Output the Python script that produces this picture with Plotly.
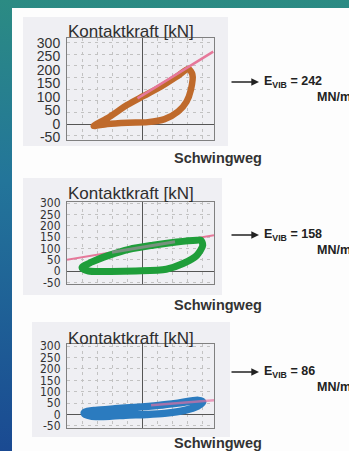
import base64
import plotly.graph_objects as go

W, H = 349, 451

# ---- data -------------------------------------------------------------
tick_values = [300, 250, 200, 150, 100, 50, 0, -50]
e_vib = [242, 158, 86]

# hysteresis loop 1 (stiff soil)
loop1_x = [-3.22, -2.32, -0.97, 0.11, 1.28, 2.41, 3.09, 3.36, 3.26, 2.97, 2.41, 1.51, 0.39, -0.97, -2.32, -3.11, -3.22]
loop1_y = [-7, 21, 71, 104, 139, 179, 204, 183, 127, 83, 46, 18, 7, 5, 0, -7, -7]
fit1_x = [-0.3, 4.75]
fit1_y = [95, 268]

# hysteresis loop 2
loop2_x = [-4.0, -3.56, -2.21, -0.41, 1.62, 2.74, 3.65, 4.05, 3.92, 3.65, 2.30, 0.72, -0.86, -2.21, -3.33, -4.0]
loop2_y = [15, 0, -2, 0, 8, 33, 69, 114, 136, 136, 128, 114, 96, 69, 40, 15]
fit2_x = [-5.0, 4.8]
fit2_y = [50, 158]
fit2_top_x = [-2.0, 2.2]
fit2_top_y = [83, 129]

# hysteresis loop 3 (soft soil)
loop3_x = [-3.85, -3.4, -2.0, -1.1, 0.3, 1.5, 2.85, 3.7, 4.05, 3.75, 2.4, 1.1, -0.5, -1.8, -3.1, -3.8, -3.85]
loop3_y = [5, -7, -7, -3, 0, 5, 18, 36, 55, 62, 50, 40, 31, 25, 18, 10, 5]
fit3_x = [0.6, 4.85]
fit3_y = [41, 63]

loops = [(loop1_x, loop1_y), (loop2_x, loop2_y), (loop3_x, loop3_y)]
loop_colors = ["#bf6a2c", "#1f9e3a", "#2b7bbf"]
loop_widths = [6.5, 7, 7.5]

# ---- layout geometry (pixels) ------------------------------------------
def fx(p):
    return p / W

def fy(p):
    return 1 - p / H

BOX_L, BOX_R = 67, 214
X_RANGE = [-5.0, 4.8]
font_fam = "Liberation Sans, Arial, sans-serif"
narrow_fam = "Liberation Sans Narrow, DejaVu Sans Condensed, Liberation Sans, Arial"

panels = [
    dict(top=38, bottom=140, zero=124, per50=13.5, grid=43,
         tickfont=dict(family=font_fam, size=14, color="#333"),
         title_y=32, label_y=158, e_y=82, bg=(23, 17, 228, 146)),
    dict(top=202, bottom=284, zero=271, per50=11.3, grid=50,
         tickfont=dict(family=narrow_fam, size=12, color="#333"),
         title_y=193, label_y=305, e_y=235, bg=(23, 178, 222, 295)),
    dict(top=344, bottom=428, zero=414.5, per50=11.4, grid=50,
         tickfont=dict(family=narrow_fam, size=12, color="#333"),
         title_y=338, label_y=443, e_y=372, bg=(32, 322, 230, 437)),
]

fig = go.Figure()

# background gradient on the slide
svg = ('<svg xmlns="http://www.w3.org/2000/svg" width="349" height="451">'
       '<defs><linearGradient id="g" x1="0" y1="0" x2="0" y2="1">'
       '<stop offset="0" stop-color="#2b8b83"/>'
       '<stop offset="0.4" stop-color="#23759a"/>'
       '<stop offset="1" stop-color="#1a4a92"/>'
       '</linearGradient></defs>'
       '<rect width="349" height="451" fill="url(#g)"/></svg>')
src = "data:image/svg+xml;base64," + base64.b64encode(svg.encode()).decode()

shapes = [
    dict(type="rect", xref="paper", yref="paper", layer="below",
         x0=fx(12), x1=1.0, y0=0.0, y1=fy(8),
         fillcolor="#fdfdfd", line=dict(width=0)),
]

annotations = []

for i, p in enumerate(panels):
    n = "" if i == 0 else str(i + 1)
    xa, ya = "x" + n, "y" + n
    y_rng = [-(p["bottom"] - p["zero"]) / p["per50"] * 50,
             (p["zero"] - p["top"]) / p["per50"] * 50]

    bx0, by0, bx1, by1 = p["bg"]
    shapes.append(dict(type="rect", xref="paper", yref="paper", layer="below",
                       x0=fx(bx0), x1=fx(bx1), y0=fy(by1), y1=fy(by0),
                       fillcolor="#efeff3", line=dict(width=0)))

    axis_common = dict(showline=True, mirror=True, linecolor="#808080", linewidth=1,
                       zeroline=True, zerolinecolor="#555", zerolinewidth=1,
                       ticks="", fixedrange=True, automargin=False)
    fig.update_layout(**{
        "xaxis" + n: dict(domain=[fx(BOX_L), fx(BOX_R)], range=X_RANGE,
                          anchor=ya, showticklabels=False,
                          showgrid=True, dtick=1, tick0=0,
                          gridcolor="#c2c2c2", griddash="3px,4px", gridwidth=1,
                          **axis_common),
        "yaxis" + n: dict(domain=[fy(p["bottom"]), fy(p["top"])], range=y_rng,
                          anchor=xa, tickmode="array", tickvals=tick_values,
                          ticktext=[str(v) for v in tick_values],
                          tickfont=p["tickfont"], ticklabelstandoff=3,
                          showgrid=(p["grid"] == 50), gridcolor="#c2c2c2",
                          griddash="3px,4px", gridwidth=1,
                          minor=dict(showgrid=(p["grid"] != 50), dtick=p["grid"], tick0=0,
                                     gridcolor="#c2c2c2", griddash="3px,4px", gridwidth=1),
                          **axis_common),
    })

    lx, ly = loops[i]
    if i == 1:
        fig.add_trace(go.Scatter(x=fit2_x, y=fit2_y, xaxis=xa, yaxis=ya, mode="lines",
                                 line=dict(color="#e6789a", width=2), hoverinfo="skip"))
    fig.add_trace(go.Scatter(x=lx, y=ly, xaxis=xa, yaxis=ya, mode="lines",
                             line=dict(color=loop_colors[i], width=loop_widths[i],
                                       shape="spline", smoothing=0.8),
                             hoverinfo="skip"))
    if i == 0:
        fig.add_trace(go.Scatter(x=fit1_x, y=fit1_y, xaxis=xa, yaxis=ya, mode="lines",
                                 line=dict(color="#e6789a", width=2.5), hoverinfo="skip"))
    elif i == 1:
        fig.add_trace(go.Scatter(x=fit2_top_x, y=fit2_top_y, xaxis=xa, yaxis=ya, mode="lines",
                                 line=dict(color="rgba(150,140,150,0.75)", width=3),
                                 hoverinfo="skip"))
    else:
        fig.add_trace(go.Scatter(x=fit3_x, y=fit3_y, xaxis=xa, yaxis=ya, mode="lines",
                                 line=dict(color="rgba(230,110,160,0.65)", width=2.5),
                                 hoverinfo="skip"))

    annotations += [
        dict(text="Kontaktkraft [kN]", xref="paper", yref="paper",
             x=fx(66), y=fy(p["title_y"]), xanchor="left", yanchor="middle",
             showarrow=False, font=dict(family=font_fam, size=17, color="#2e2e2e")),
        dict(text="<b>Schwingweg</b>", xref="paper", yref="paper",
             x=fx(218), y=fy(p["label_y"]), xanchor="center", yanchor="middle",
             showarrow=False, font=dict(family=font_fam, size=14.5, color="#333")),
        dict(text="", xref="paper", yref="paper", x=fx(259), y=fy(p["e_y"]),
             ax=-29, ay=0, showarrow=True, arrowhead=2, arrowsize=1.1,
             arrowwidth=1.4, arrowcolor="#222"),
        dict(text=f"<b>E<sub>VIB</sub> = {e_vib[i]}</b>", xref="paper", yref="paper",
             x=fx(262), y=fy(p["e_y"]), xanchor="left", yanchor="middle",
             showarrow=False, font=dict(family=font_fam, size=12.5, color="#222")),
        dict(text="<b>MN/m²</b>", xref="paper", yref="paper",
             x=fx(315), y=fy(p["e_y"] + 15), xanchor="left", yanchor="middle",
             showarrow=False, font=dict(family=font_fam, size=12.5, color="#222")),
    ]

fig.update_layout(
    width=W, height=H, margin=dict(l=0, r=0, t=0, b=0, pad=0, autoexpand=False),
    paper_bgcolor="#2b8b83", plot_bgcolor="rgba(0,0,0,0)",
    showlegend=False, shapes=shapes, annotations=annotations,
    images=[dict(source=src, xref="paper", yref="paper", x=0, y=1, sizex=1, sizey=1,
                 xanchor="left", yanchor="top", sizing="stretch", layer="below")],
)

fig.write_html("out.html", config=dict(displayModeBar=False, staticPlot=True))
